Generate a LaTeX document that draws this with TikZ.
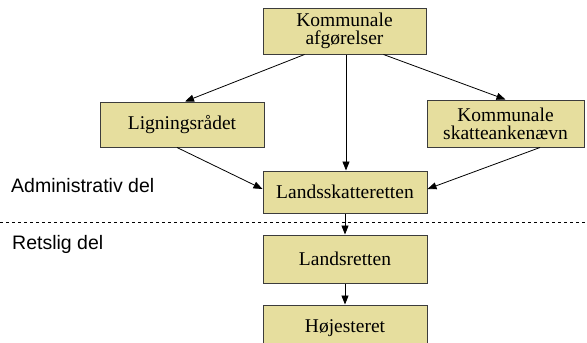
\documentclass[tikz,border=0pt]{standalone}
\usepackage{fontspec}
\setmainfont{Liberation Serif}
\setsansfont{Liberation Sans}
\usepackage{tikz}
\usetikzlibrary{arrows.meta}
\usetikzlibrary{positioning}
\usepackage{xcolor}
\definecolor{boxfill}{RGB}{230,222,158}
\definecolor{boxline}{RGB}{60,60,60}

\begin{document}
\begin{tikzpicture}[x=1pt,y=-1pt,every node/.style={inner sep=0pt},
  every text node part/.style={align=center},
  instans/.style={draw=boxline,line width=1pt,fill=boxfill,
    font=\fontsize{19.5}{18}\selectfont},
  forbind/.style={-{Triangle[length=9pt,width=7pt]},line width=0.8pt},
  delnavn/.style={anchor=west,font=\sffamily\fontsize{19.5}{22}\selectfont}]

  \useasboundingbox (0,0) rectangle (587,343);

  % dividing line
  \coordinate (skilleV) at (0,222);
  \coordinate (skilleH) at (587,222);
  \draw[dashed,dash pattern=on 3pt off 3pt,line width=0.7pt] (skilleV) -- (skilleH);

  % part labels
  \node[delnavn] (admin) at (11,186) {Administrativ del};
  \node[delnavn] (retslig) at (12,244) {Retslig del};

  % boxes
  \node[instans,minimum width=163pt,minimum height=46pt] (kommunale) at (344.5,31)
    {Kommunale\\afgørelser};
  \node[instans,minimum width=164pt,minimum height=45pt] (ligning) at (182,124.5)
    {Ligningsrådet};
  \node[instans,minimum width=157pt,minimum height=47pt] (skatteank) at (505.5,123.5)
    {Kommunale\\skatteankenævn};
  \node[instans,minimum width=164pt,minimum height=42pt] (landsskat) at (345,192)
    {Landsskatteretten};
  \node[instans,minimum width=164pt,minimum height=48pt] (landsret) at (345,259)
    {Landsretten};
  \node[instans,minimum width=164pt,minimum height=46pt] (hoejeste) at (345,328)
    {Højesteret};

  % arrows
  \draw[forbind] ([xshift=-40pt]kommunale.south) -- ([xshift=3pt]ligning.north);
  \draw[forbind] ([xshift=39pt]kommunale.south) -- (skatteank.north);
  \draw[forbind] ([xshift=1.5pt]kommunale.south) -- ([xshift=1pt]landsskat.north);
  \draw[forbind] ([xshift=-5pt]ligning.south) -- ([yshift=3pt]landsskat.west);
  \draw[forbind] ([xshift=34.5pt]skatteank.south) -- ([yshift=3pt]landsskat.east);
  \draw[forbind] (landsskat) -- (landsret);
  \draw[forbind] (landsret) -- (hoejeste);

\end{tikzpicture}
\end{document}
